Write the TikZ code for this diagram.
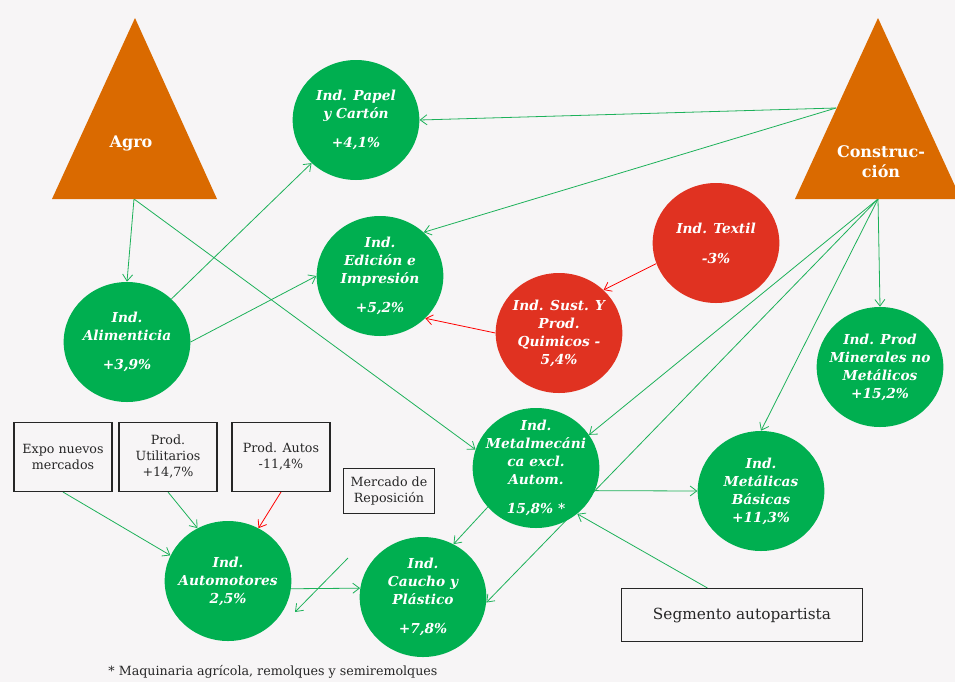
\documentclass[tikz,border=0pt]{standalone}
\usepackage{fontspec}
\setmainfont{DejaVu Serif}
\usetikzlibrary{shapes.geometric,arrows.meta}
\definecolor{bgcol}{HTML}{F7F5F6}
\definecolor{indgreen}{HTML}{00AF50}
\definecolor{indred}{HTML}{E03221}
\definecolor{sectorange}{HTML}{DA6A00}
\definecolor{linegreen}{HTML}{1DB15A}
\pgfdeclarelayer{back}
\pgfsetlayers{back,main}

\begin{document}
\begin{tikzpicture}[x=0.75pt,y=-0.75pt,
	ind/.style={ellipse,fill=indgreen,minimum width=95pt,minimum height=90pt,inner xsep=-14pt,inner ysep=-14pt,
		text=white,align=center,font=\fontsize{10.3}{13.5}\selectfont\bfseries\itshape},
	indneg/.style={ind,fill=indred},
	factor/.style={draw=black!85,line width=0.8pt,fill=bgcol,inner sep=0pt,align=center,
		text=black!85,font=\fontsize{9.5}{12}\selectfont},
	sector/.style={fill=sectorange},
	sectorlabel/.style={text=white,align=center,font=\fontsize{12}{15}\selectfont\bfseries},
	flow/.style={draw=linegreen,line width=0.6pt,-{Straight Barb[length=5pt,width=7.5pt]}},
	flowneg/.style={flow,draw=red}
	]
	\clip (0,0) rectangle (955,682);
	\begin{pgfonlayer}{back}
		\fill[bgcol] (0,0) rectangle (955,682);
	\end{pgfonlayer}

	% sectores
	\fill[sector] (135,18) -- (217,199) -- (52,199) -- cycle;
	\fill[sector] (878,18) -- (961,199) -- (795,199) -- cycle;
	\node[sectorlabel] (agro) at (131,143) {Agro};
	\node[sectorlabel] (constr) at (881,162) {Construc-\\ción};
	\coordinate (agro-b) at (134,199);
	\coordinate (constr-l) at (836,108);
	\coordinate (constr-b) at (878,199);

	% industrias
	\node[ind] (papel) at (356,120) {Ind. Papel\\y Cartón\\[8pt]+4,1\%};
	\node[ind] (edic) at (380,276) {Ind.\\Edición e\\Impresión\\[8pt]+5,2\%};
	\node[ind] (alim) at (127,342) {Ind.\\Alimenticia\\[8pt]+3,9\%};
	\node[indneg] (textil) at (716,243) {Ind. Textil\\[9pt]-3\%};
	\node[indneg] (quim) at (559,333) {Ind. Sust. Y\\Prod.\\Quimicos -\\5,4\%};
	\node[ind] (miner) at (880,367) {Ind. Prod\\Minerales no\\Metálicos\\+15,2\%};
	\node[ind] (metal) at (536,468) {Ind.\\Metalmecáni\\ca excl.\\Autom.\\[8pt]15,8\% *};
	\node[ind] (metbas) at (761,491) {Ind.\\Metálicas\\Básicas\\+11,3\%};
	\node[ind] (autom) at (228,581) {Ind.\\Automotores\\2,5\%};
	\node[ind] (caucho) at (423,597) {Ind.\\Caucho y\\Plástico\\[8pt]+7,8\%};

	% factores
	\node[factor,minimum width=73.5pt,minimum height=51.75pt] (expo) at (63,457) {Expo nuevos\\mercados};
	\node[factor,minimum width=73.5pt,minimum height=51.75pt] (util) at (168,457) {Prod.\\Utilitarios\\+14,7\%};
	\node[factor,minimum width=73.5pt,minimum height=51.75pt] (autos) at (281,457) {Prod. Autos\\-11,4\%};
	\node[factor,minimum width=68.25pt,minimum height=33.75pt] (repos) at (389,491) {Mercado de\\Reposición};
	\node[factor,minimum width=180.75pt,minimum height=39.75pt,font=\fontsize{11.5}{14}\selectfont] (segm) at (742,615) {Segmento autopartista};
	\node[text=black!85,font=\fontsize{9.5}{12}\selectfont] (nota) at (273,672) {* Maquinaria agrícola, remolques y semiremolques};
	\coordinate (repos-a) at (348,558);
	\coordinate (repos-b) at (295,612);

	\begin{pgfonlayer}{back}
		\draw[flow] (agro-b) -- (alim.north);
		\draw[flow] (agro-b) -- (metal.163);
		\draw[flow] (alim) -- (papel);
		\draw[flow] (alim.east) -- (edic.west);
		\draw[flow] (constr-l) -- (papel.east);
		\draw[flow] (constr-l) -- (edic.45);
		\draw[flowneg] (textil.199) -- (quim.44);
		\draw[flowneg] (quim.west) -- (edic.-43);
		\draw[flow] (constr-b) -- (miner.north);
		\draw[flow] (constr-b) -- (metal.32);
		\draw[flow] (constr-b) -- (caucho.-5);
		\draw[flow] (constr-b) -- (metbas.north);
		\draw[flow] (metal.-21) -- (metbas.west);
		\draw[flow] (metal.219) -- (caucho.60);
		\draw[flow] (segm.142) -- (metal.-48);
		\draw[flow] (autom.-7) -- (caucho.172);
		\draw[flow] (repos-a) -- (repos-b);
		\draw[flow] (expo.south) -- (autom.156);
		\draw[flow] (util.south) -- (autom.120);
		\draw[flowneg] (autos.south) -- (autom.60);
	\end{pgfonlayer}
\end{tikzpicture}
\end{document}
